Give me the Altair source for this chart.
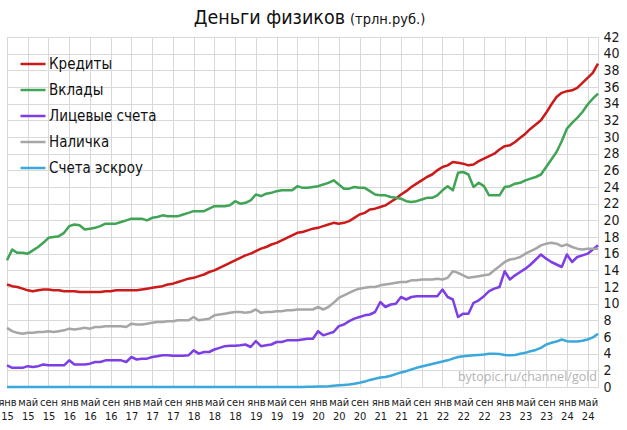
import json
import altair as alt
import pandas as pd

# ---- data (monthly, Jan 2015 .. Jul 2024), trillion rubles ----
months = list(range(115))

kredity = [
    12.3, 12.1, 12.0, 11.8, 11.6, 11.5, 11.6, 11.7, 11.7, 11.6,
    11.6, 11.5, 11.5, 11.5, 11.4, 11.4, 11.4, 11.4, 11.4, 11.5,
    11.5, 11.6, 11.6, 11.6, 11.6, 11.6, 11.7, 11.8, 11.9, 12.0,
    12.1, 12.3, 12.4, 12.6, 12.8, 13.0, 13.1, 13.3, 13.5, 13.8,
    14.0, 14.3, 14.6, 14.9, 15.2, 15.5, 15.8, 16.0, 16.3, 16.6,
    16.8, 17.1, 17.3, 17.6, 17.9, 18.2, 18.5, 18.6, 18.8, 19.0,
    19.1, 19.3, 19.5, 19.7, 19.6, 19.7, 19.9, 20.3, 20.7, 20.9,
    21.3, 21.4, 21.6, 21.8, 22.2, 22.6, 23.1, 23.5, 24.0, 24.4,
    24.8, 25.2, 25.5, 26.0, 26.4, 26.6, 27.0, 26.9, 26.8, 26.6,
    26.7, 27.1, 27.4, 27.7, 28.0, 28.5, 28.9, 29.0, 29.4, 29.9,
    30.4, 31.0, 31.5, 32.0, 32.9, 33.9, 34.8, 35.3, 35.5, 35.6,
    35.9, 36.5, 37.1, 37.7, 38.8,
]

vklady = [
    15.2, 16.5, 16.1, 16.1, 16.0, 16.4, 16.8, 17.3, 17.9, 18.0,
    18.1, 18.5, 19.3, 19.5, 19.4, 18.9, 19.0, 19.1, 19.3, 19.6,
    19.6, 19.6, 19.8, 20.0, 20.2, 20.2, 20.2, 20.0, 20.3, 20.4,
    20.6, 20.5, 20.5, 20.5, 20.7, 20.9, 21.1, 21.1, 21.1, 21.4,
    21.7, 21.7, 21.7, 21.8, 22.3, 22.0, 22.1, 22.4, 23.1, 22.9,
    23.2, 23.3, 23.5, 23.6, 23.6, 23.6, 24.1, 23.9, 23.9, 24.0,
    24.1, 24.3, 24.5, 24.8, 24.3, 23.8, 23.8, 24.0, 23.9, 23.9,
    23.5, 23.1, 23.0, 23.0, 22.8, 22.7, 22.6, 22.3, 22.2, 22.3,
    22.5, 22.7, 22.7, 23.0, 23.6, 24.1, 23.6, 25.7, 25.8, 25.5,
    24.0, 24.5, 24.1, 23.0, 23.0, 23.0, 24.0, 24.1, 24.4, 24.5,
    24.8, 25.0, 25.2, 25.5, 26.4, 27.3, 28.2, 29.5, 31.0, 31.7,
    32.3, 33.0, 33.9, 34.6, 35.2,
]

licevye = [
    2.6, 2.3, 2.3, 2.3, 2.5, 2.4, 2.5, 2.7, 2.6, 2.6,
    2.6, 2.6, 3.2, 2.7, 2.7, 2.7, 2.8, 3.0, 3.0, 3.2,
    3.2, 3.2, 3.2, 3.0, 3.6, 3.3, 3.4, 3.4, 3.6, 3.7,
    3.8, 3.8, 3.75, 3.75, 3.75, 3.8, 4.4, 4.0, 4.2, 4.2,
    4.5, 4.7, 4.9, 4.95, 4.95, 5.0, 5.1, 4.8, 5.5, 4.9,
    5.0, 5.1, 5.4, 5.4, 5.6, 5.6, 5.6, 5.7, 5.8, 5.8,
    6.7, 6.2, 6.4, 6.6, 7.3, 7.5, 7.9, 8.2, 8.4, 8.6,
    8.7, 9.0, 10.2, 9.6, 9.9, 10.0, 10.8, 10.5, 10.8, 10.9,
    10.9, 10.9, 10.9, 10.9, 11.7, 10.8, 10.5, 8.4, 8.8, 8.8,
    10.1, 10.4, 10.9, 11.5, 11.8, 12.0, 13.9, 12.9, 13.4, 13.8,
    14.2, 14.7, 15.3, 15.9, 15.4, 15.0, 14.7, 14.4, 15.9, 15.0,
    15.6, 15.8, 16.0, 16.5, 17.0,
]

nalichka = [
    7.1, 6.7, 6.5, 6.4, 6.5, 6.5, 6.6, 6.6, 6.7, 6.6,
    6.7, 6.8, 7.0, 6.9, 7.0, 7.1, 7.0, 7.2, 7.2, 7.3,
    7.3, 7.3, 7.3, 7.2, 7.6, 7.5, 7.5, 7.6, 7.7, 7.8,
    7.8, 7.9, 7.9, 8.0, 8.0, 8.0, 8.4, 8.0, 8.1, 8.2,
    8.6, 8.7, 8.8, 8.9, 9.0, 9.0, 8.9, 9.0, 9.3, 8.9,
    9.0, 9.0, 9.1, 9.1, 9.2, 9.2, 9.3, 9.3, 9.3, 9.3,
    9.6, 9.3, 9.6, 10.1, 10.7, 11.0, 11.3, 11.6, 11.8, 11.9,
    12.0, 12.0, 12.2, 12.3, 12.4, 12.5, 12.6, 12.6, 12.8, 12.8,
    12.9, 12.9, 12.9, 13.0, 12.9, 13.1, 13.9, 13.7, 13.4, 13.1,
    13.2, 13.3, 13.4, 13.5, 14.0, 14.5, 15.0, 15.3, 15.4, 15.6,
    16.0, 16.3, 16.6, 17.0, 17.2, 17.3, 17.2, 16.9, 17.1, 16.8,
    16.6, 16.5, 16.6, 16.6, 16.6,
]

eskrou = [
    0, 0, 0, 0, 0, 0, 0, 0, 0, 0,
    0, 0, 0, 0, 0, 0, 0, 0, 0, 0,
    0, 0, 0, 0, 0, 0, 0, 0, 0, 0,
    0, 0, 0, 0, 0, 0, 0, 0, 0, 0,
    0, 0, 0, 0, 0, 0, 0, 0, 0, 0,
    0, 0, 0, 0, 0, 0, 0, 0, 0.02, 0.03,
    0.05, 0.07, 0.1, 0.15, 0.2, 0.25, 0.3, 0.4, 0.5, 0.65,
    0.85, 1.0, 1.15, 1.2, 1.35, 1.55, 1.75, 1.9, 2.1, 2.3,
    2.45, 2.6, 2.75, 2.9, 3.05, 3.2, 3.4, 3.6, 3.7, 3.75,
    3.8, 3.85, 3.9, 4.0, 4.0, 3.95, 3.85, 3.8, 3.85, 4.0,
    4.1, 4.3, 4.45, 4.7, 5.1, 5.3, 5.45, 5.7, 5.5, 5.45,
    5.45, 5.55, 5.7, 5.95, 6.4,
]

series_names = ["Кредиты", "Вклады", "Лицевые счета", "Наличка", "Счета эскроу"]
series_values = [kredity, vklady, licevye, nalichka, eskrou]
series_colors = ["#CC1A1A", "#3FA454", "#7C3FE6", "#A6A6A6", "#3AA8DC"]

tick_labels = [
    "янв 15", "май 15", "сен 15", "янв 16", "май 16", "сен 16",
    "янв 17", "май 17", "сен 17", "янв 18", "май 18", "сен 18",
    "янв 19", "май 19", "сен 19", "янв 20", "май 20", "сен 20",
    "янв 21", "май 21", "сен 21", "янв 22", "май 22", "сен 22",
    "янв 23", "май 23", "сен 23", "янв 24", "май 24",
]
tick_positions = list(range(0, 113, 4))
y_ticks = list(range(0, 43, 2))

title_main = "Деньги физиков"
title_unit = "(трлн.руб.)"
watermark = "bytopic.ru/channel/gold"

# ---- build table ----
rows = []
for name, vals in zip(series_names, series_values):
    for m, v in zip(months, vals):
        rows.append({"m": m, "v": v, "s": name})
df = pd.DataFrame(rows)

NARROW = "Liberation Sans Narrow, DejaVu Sans Condensed, Arial Narrow, sans-serif"
GRID = "#D9D9D9"

label_expr = "split(" + json.dumps(tick_labels, ensure_ascii=False) + "[round(datum.value / 4)], ' ')"

lines = alt.Chart(df).mark_line(strokeWidth=2.5, strokeJoin="round").encode(
    x=alt.X("m:Q",
            scale=alt.Scale(domain=[0, 114], nice=False, zero=False),
            axis=alt.Axis(values=tick_positions, labelExpr=label_expr, title=None,
                          grid=True, gridColor=GRID, ticks=False, domain=False,
                          labelFont=NARROW, labelFontSize=11, labelColor="#1a1a1a",
                          labelBaseline="top", labelPadding=9, labelLineHeight=14,
                          labelOverlap=False, labelFlush=False)),
    y=alt.Y("v:Q",
            scale=alt.Scale(domain=[0, 42], nice=False, zero=True),
            axis=alt.Axis(orient="right", values=y_ticks, title=None,
                          grid=True, gridColor=GRID, ticks=False, domain=False,
                          labelFont=NARROW, labelFontSize=14, labelColor="#1a1a1a",
                          labelPadding=5, labelAlign="left")),
    color=alt.Color("s:N",
                    scale=alt.Scale(domain=series_names, range=series_colors),
                    legend=alt.Legend(title=None, orient="none", legendX=12, legendY=13,
                                      symbolType="stroke", symbolSize=625,
                                      symbolStrokeWidth=2.5, labelFont=NARROW,
                                      labelFontSize=15, labelColor="#111111",
                                      rowPadding=4, labelOffset=2, padding=0,
                                      labelLimit=300)),
)

t1 = alt.Chart(pd.DataFrame({"t": [title_main]})).mark_text(
    font=NARROW, fontSize=19.5, align="right", baseline="alphabetic", color="#111111"
).encode(text="t:N", x=alt.value(338), y=alt.value(-13))

t2 = alt.Chart(pd.DataFrame({"t": [title_unit]})).mark_text(
    font=NARROW, fontSize=14.5, align="left", baseline="alphabetic", color="#111111"
).encode(text="t:N", x=alt.value(343), y=alt.value(-13))

wm = alt.Chart(pd.DataFrame({"t": [watermark]})).mark_text(
    font="Open Sans", fontSize=12.5, align="right", baseline="middle", color="#B3B3B3"
).encode(text="t:N", x=alt.value(590), y=alt.value(340))

chart = alt.layer(lines, t1, t2, wm).properties(
    width=591, height=350,
    autosize=alt.AutoSizeParams(type="none"),
    padding={"left": 7, "top": 37, "right": 29, "bottom": 43},
    background="white",
).configure_view(stroke=GRID)

chart.save("out.html", embed_options={"renderer": "svg", "actions": False})
